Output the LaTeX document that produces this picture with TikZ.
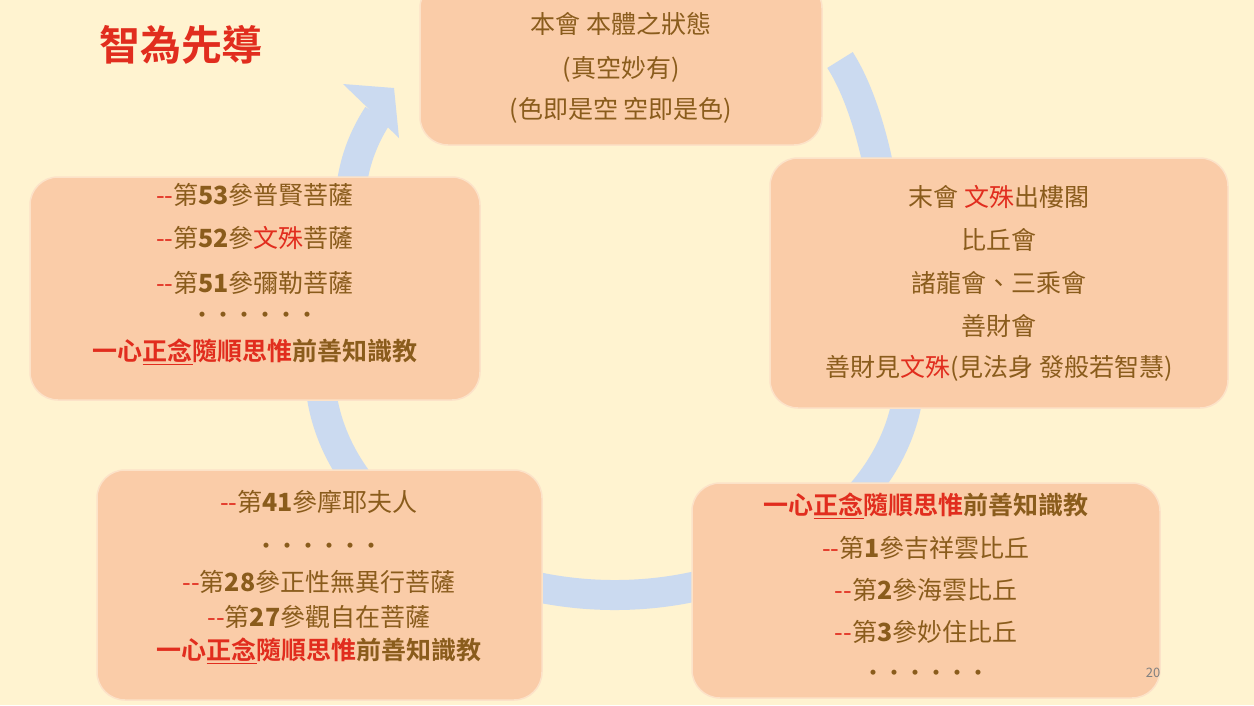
\documentclass[tikz,border=0pt]{standalone}
\usepackage{fontspec}
\setmainfont{Noto Sans CJK TC}
\newfontfamily\cjkb{Noto Sans CJK TC Bold}
\definecolor{bg}{RGB}{255,243,208}
\definecolor{boxf}{RGB}{250,204,168}
\definecolor{boxd}{RGB}{252,226,200}
\definecolor{txt}{RGB}{138,92,28}
\definecolor{rd}{RGB}{225,45,30}
\definecolor{ring}{RGB}{203,218,240}
\newcommand{\rr}[1]{\textcolor{rd}{#1}}
\newcommand{\dd}{\rr{-{}-}}
\newcommand{\mydots}{{\fontsize{18}{20}\selectfont\textbf{•\,•\,•\,•\,•\,•}}}
\newcommand{\yixin}{{\cjkb\rr{一心\underline{正念}隨順思惟}\textcolor{txt}{前善知識教}}}
\tikzset{
  pbox/.style={draw=boxd,line width=1.5pt,fill=boxf,rounded corners=28pt},
  ln/.style={text=txt,font=\fontsize{25}{28}\selectfont,anchor=center}
}
\begin{document}
\begin{tikzpicture}[x=1pt,y=-1pt]
\useasboundingbox (0,0) rectangle (1254,705);
\fill[bg] (0,0) rectangle (1254,705);
% ring arrow
\draw[ring,line width=30pt] (840,60) .. controls (875,115) and (892,220) .. (892,293) arc[start angle=340,end angle=570,x radius=295,y radius=225] .. controls (340,200) and (355,150) .. (378,115);
\fill[ring] (343,84) -- (394,88) -- (399,138) -- cycle;
% boxes
\draw[pbox] (420,-20) rectangle (822,145);
\draw[pbox] (770,158) rectangle (1228,408);
\draw[pbox] (692,483) rectangle (1160,698);
\draw[pbox] (97,470) rectangle (542,700);
\draw[pbox] (30,177) rectangle (480,400);
% title
\node[font=\cjkb\fontsize{41}{44}\selectfont,text=rd] (title) at (181,45) {智為先導};
\node[text=black!50,font=\fontsize{13}{15}\selectfont] (pg) at (1153,673) {20};
% top box
\node[ln] (t1) at (621,24) {本會\ 本體之狀態};
\node[ln] (t2) at (621,69) {(真空妙有)};
\node[ln] (t3) at (621,110) {(色即是空\ 空即是色)};
% right box
\node[ln] (r1) at (999,197) {末會\ \rr{文殊}出樓閣};
\node[ln] (r2) at (999,240) {比丘會};
\node[ln] (r3) at (999,283) {諸龍會、三乘會};
\node[ln] (r4) at (999,326) {善財會};
\node[ln] (r5) at (999,368) {善財見\rr{文殊}(見法身\ 發般若智慧)};
% bottom right
\node[ln] (b1) at (926,506) {\yixin};
\node[ln] (b2) at (926,548) {\dd 第\textbf{1}參吉祥雲比丘};
\node[ln] (b3) at (926,590) {\dd 第\textbf{2}參海雲比丘};
\node[ln] (b4) at (926,632) {\dd 第\textbf{3}參妙住比丘};
\node[ln] (b5) at (926,675) {\mydots};
% bottom left
\node[ln] (l1) at (319,502) {\dd 第\textbf{41}參摩耶夫人};
\node[ln] (l2) at (319,548) {\mydots};
\node[ln] (l3) at (319,582) {\dd 第\textbf{28}參正性無異行菩薩};
\node[ln] (l4) at (319,617) {\dd 第\textbf{27}參觀自在菩薩};
\node[ln] (l5) at (319,651) {\yixin};
% left box
\node[ln] (k1) at (255,195) {\dd 第\textbf{53}參普賢菩薩};
\node[ln] (k2) at (255,238) {\dd 第\textbf{52}參\rr{文殊}菩薩};
\node[ln] (k3) at (255,283) {\dd 第\textbf{51}參彌勒菩薩};
\node[ln] (k4) at (255,317) {\mydots};
\node[ln] (k5) at (255,352) {\yixin};
\end{tikzpicture}
\end{document}
